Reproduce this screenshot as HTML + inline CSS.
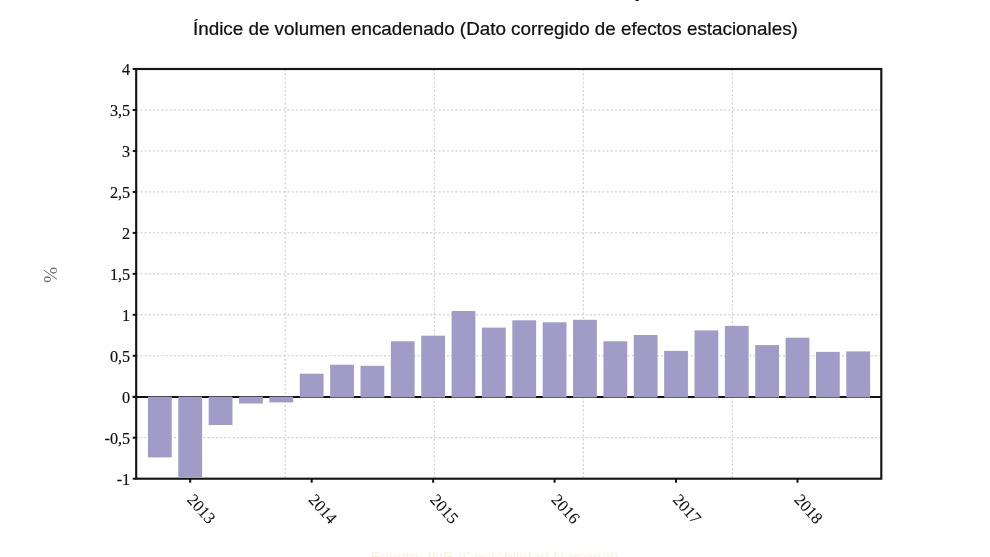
<!DOCTYPE html>
<html lang="es"><head><meta charset="utf-8"><title>Índice de volumen encadenado</title>
<style>
html,body{margin:0;padding:0;background:#fff;}
body{width:990px;height:557px;overflow:hidden;position:relative;}
svg{position:absolute;left:0;top:0;display:block;filter:blur(0.4px);}
.sans{font-family:"Liberation Sans",Arial,sans-serif;}
.serif{font-family:"Liberation Serif","Times New Roman",serif;}
</style></head><body>
<svg width="990" height="557" viewBox="0 0 990 557">
<rect x="0" y="0" width="990" height="557" fill="#ffffff"/>
<text class="sans" id="ttl" transform="translate(494,-2.9) scale(1.157,1)" x="0" y="0" font-size="20" font-weight="bold" text-anchor="middle" fill="#111">Evolución del PIB en el tiempo</text>
<text class="sans" id="ftr" transform="translate(494.5,561.2) scale(1.157,1)" x="0" y="0" font-size="13.4" text-anchor="middle" fill="#f2d27c" opacity="0.28">Fuente: INE (Contabilidad Nacional)</text>
<text class="sans" transform="translate(495.4,35.3) scale(1.047,1)" x="0" y="0" font-size="18" text-anchor="middle" fill="#111" stroke="#111" stroke-width="0.25" id="sub">Índice de volumen encadenado (Dato corregido de efectos estacionales)</text>
<g stroke="#c6c6c6" stroke-width="1" stroke-dasharray="2 2.2" fill="none">
<line x1="136.2" y1="109.97" x2="881.3" y2="109.97"/>
<line x1="136.2" y1="150.94" x2="881.3" y2="150.94"/>
<line x1="136.2" y1="191.91" x2="881.3" y2="191.91"/>
<line x1="136.2" y1="232.88" x2="881.3" y2="232.88"/>
<line x1="136.2" y1="273.85" x2="881.3" y2="273.85"/>
<line x1="136.2" y1="314.82" x2="881.3" y2="314.82"/>
<line x1="136.2" y1="355.79" x2="881.3" y2="355.79"/>
<line x1="136.2" y1="437.73" x2="881.3" y2="437.73"/>
<line x1="285.22" y1="69.0" x2="285.22" y2="478.7"/>
<line x1="434.24" y1="69.0" x2="434.24" y2="478.7"/>
<line x1="583.26" y1="69.0" x2="583.26" y2="478.7"/>
<line x1="732.28" y1="69.0" x2="732.28" y2="478.7"/>
</g>
<line x1="132.7" y1="397.0" x2="881.3" y2="397.0" stroke="#111" stroke-width="2.2"/>
<g fill="#a09cc7">
<rect x="147.95" y="396.60" width="23.8" height="60.80"/>
<rect x="178.31" y="396.60" width="23.8" height="80.40"/>
<rect x="208.68" y="396.60" width="23.8" height="28.40"/>
<rect x="239.04" y="396.60" width="23.8" height="6.90"/>
<rect x="269.41" y="396.60" width="23.8" height="5.80"/>
<rect x="299.77" y="373.70" width="23.8" height="23.85"/>
<rect x="330.13" y="364.70" width="23.8" height="32.85"/>
<rect x="360.50" y="365.80" width="23.8" height="31.75"/>
<rect x="390.86" y="341.30" width="23.8" height="56.25"/>
<rect x="421.23" y="335.70" width="23.8" height="61.85"/>
<rect x="451.59" y="311.00" width="23.8" height="86.55"/>
<rect x="481.95" y="327.60" width="23.8" height="69.95"/>
<rect x="512.32" y="320.30" width="23.8" height="77.25"/>
<rect x="542.68" y="322.30" width="23.8" height="75.25"/>
<rect x="573.05" y="319.80" width="23.8" height="77.75"/>
<rect x="603.41" y="341.30" width="23.8" height="56.25"/>
<rect x="633.77" y="335.00" width="23.8" height="62.55"/>
<rect x="664.14" y="350.90" width="23.8" height="46.65"/>
<rect x="694.50" y="330.40" width="23.8" height="67.15"/>
<rect x="724.87" y="325.90" width="23.8" height="71.65"/>
<rect x="755.23" y="345.10" width="23.8" height="52.45"/>
<rect x="785.59" y="337.70" width="23.8" height="59.85"/>
<rect x="815.96" y="351.90" width="23.8" height="45.65"/>
<rect x="846.32" y="351.40" width="23.8" height="46.15"/>
</g>
<rect x="136.2" y="69.0" width="745.0999999999999" height="409.7" fill="none" stroke="#151515" stroke-width="2.15"/>
<g stroke="#111" stroke-width="2">
<line x1="132.7" y1="69.00" x2="136.2" y2="69.00"/>
<line x1="132.7" y1="109.97" x2="136.2" y2="109.97"/>
<line x1="132.7" y1="150.94" x2="136.2" y2="150.94"/>
<line x1="132.7" y1="191.91" x2="136.2" y2="191.91"/>
<line x1="132.7" y1="232.88" x2="136.2" y2="232.88"/>
<line x1="132.7" y1="273.85" x2="136.2" y2="273.85"/>
<line x1="132.7" y1="314.82" x2="136.2" y2="314.82"/>
<line x1="132.7" y1="355.79" x2="136.2" y2="355.79"/>
<line x1="132.7" y1="396.76" x2="136.2" y2="396.76"/>
<line x1="132.7" y1="437.73" x2="136.2" y2="437.73"/>
<line x1="132.7" y1="478.70" x2="136.2" y2="478.70"/>
<line x1="190.21" y1="478.7" x2="190.21" y2="482.7"/>
<line x1="311.67" y1="478.7" x2="311.67" y2="482.7"/>
<line x1="433.13" y1="478.7" x2="433.13" y2="482.7"/>
<line x1="554.58" y1="478.7" x2="554.58" y2="482.7"/>
<line x1="676.04" y1="478.7" x2="676.04" y2="482.7"/>
<line x1="797.49" y1="478.7" x2="797.49" y2="482.7"/>
</g>
<g class="serif" font-size="17.3" fill="#111" stroke="#111" stroke-width="0.2" text-anchor="end">
<text transform="translate(130.2,75.00) scale(0.94,1)">4</text>
<text transform="translate(130.2,115.97) scale(0.94,1)">3,5</text>
<text transform="translate(130.2,156.94) scale(0.94,1)">3</text>
<text transform="translate(130.2,197.91) scale(0.94,1)">2,5</text>
<text transform="translate(130.2,238.88) scale(0.94,1)">2</text>
<text transform="translate(130.2,279.85) scale(0.94,1)">1,5</text>
<text transform="translate(130.2,320.82) scale(0.94,1)">1</text>
<text transform="translate(130.2,361.79) scale(0.94,1)">0,5</text>
<text transform="translate(130.2,402.76) scale(0.94,1)">0</text>
<text transform="translate(130.2,443.73) scale(0.94,1)">-0,5</text>
<text transform="translate(130.2,484.70) scale(0.94,1)">-1</text>
</g>
<g class="serif" font-size="16.5" fill="#111" stroke="#111" stroke-width="0.1">
<text text-anchor="middle" transform="translate(201.31,508.90) rotate(48)" y="5.45">2013</text>
<text text-anchor="middle" transform="translate(322.77,508.90) rotate(48)" y="5.45">2014</text>
<text text-anchor="middle" transform="translate(444.23,508.90) rotate(48)" y="5.45">2015</text>
<text text-anchor="middle" transform="translate(565.68,508.90) rotate(48)" y="5.45">2016</text>
<text text-anchor="middle" transform="translate(687.14,508.90) rotate(48)" y="5.45">2017</text>
<text text-anchor="middle" transform="translate(808.59,508.90) rotate(48)" y="5.45">2018</text>
</g>
<text class="serif" font-size="19.5" fill="#707070" text-anchor="middle" transform="translate(56.7,274.9) rotate(-90)">%</text>
</svg>
</body></html>
